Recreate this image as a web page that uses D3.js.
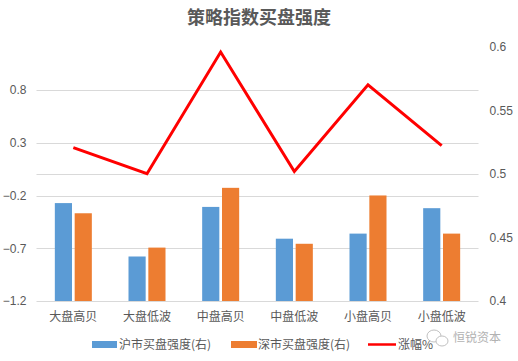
<!DOCTYPE html>
<html><head><meta charset="utf-8">
<script src="https://cdn.jsdelivr.net/npm/d3@7"></script>
<style>body{margin:0;background:#fff;} text{font-family:"Noto Sans CJK SC","Noto Sans",sans-serif;}</style>
</head><body><svg id="c" width="518" height="361"></svg>
<script>
const categories = ["大盘高贝","大盘低波","中盘高贝","中盘低波","小盘高贝","小盘低波"];
const shBuy = [0.477, 0.435, 0.474, 0.449, 0.453, 0.473];
const szBuy = [0.469, 0.442, 0.489, 0.445, 0.483, 0.453];
const gain = [0.253, 0.007, 1.16, 0.028, 0.85, 0.272];
const leftTicks = [-1.2, -0.7, -0.2, 0.3, 0.8];
const rightTicks = [0.4, 0.45, 0.5, 0.55, 0.6];
const seriesNames = ["沪市买盘强度(右)", "深市买盘强度(右)", "涨幅%"];

const svg = d3.select("#c");
const grey = "#595959";
const x0 = 36.5, x1 = 478.5, yBot = 301, yTop = 46.7;
const x = d3.scaleBand().domain(categories).range([x0, x1]);
const yL = d3.scaleLinear().domain([-1.2, 0.8]).range([yBot, 90]);
const yR = d3.scaleLinear().domain([0.4, 0.6]).range([yBot, yTop]);

// gridlines (left axis ticks)
svg.append("g").selectAll("line").data(leftTicks).join("line")
  .attr("x1", x0).attr("x2", x1).attr("y1", d => Math.round(yL(d)) + 0.5).attr("y2", d => Math.round(yL(d)) + 0.5)
  .attr("stroke", "#d9d9d9").attr("stroke-width", 1);
// zero axis line
svg.append("line").attr("x1", x0).attr("x2", x1)
  .attr("y1", Math.round(yL(0)) + 0.5).attr("y2", Math.round(yL(0)) + 0.5)
  .attr("stroke", "#d9d9d9");

// left axis
const axL = svg.append("g").attr("transform", `translate(${x0},0)`)
  .call(d3.axisLeft(yL).tickValues(leftTicks).tickSize(0).tickPadding(10).tickFormat(d3.format(".1f")));
axL.select(".domain").remove();
axL.selectAll("text").attr("fill", grey).style("font-size", "12px").style("font-family", "Liberation Sans, Arial, sans-serif");

// right axis
const axR = svg.append("g").attr("transform", `translate(${x1},0)`)
  .call(d3.axisRight(yR).tickValues(rightTicks).tickSize(0).tickPadding(11).tickFormat(d => String(+d.toFixed(2))));
axR.select(".domain").remove();
axR.selectAll("text").attr("fill", grey).style("font-size", "12px").style("font-family", "Liberation Sans, Arial, sans-serif");

// bars
const inner = d3.scaleBand().domain([0, 1]).range([0, 37]).paddingInner(0.135);
const groupOff = (x.bandwidth() - 37) / 2;
const colors = ["#5b9bd5", "#ed7d31"];
[shBuy, szBuy].forEach((vals, si) => {
  svg.append("g").selectAll("rect").data(vals).join("rect")
    .attr("x", (d, i) => x(categories[i]) + groupOff + inner(si))
    .attr("width", inner.bandwidth())
    .attr("y", d => yR(d)).attr("height", d => yBot - yR(d))
    .attr("fill", colors[si]);
});

// line
const line = d3.line().x((d, i) => x(categories[i]) + x.bandwidth() / 2).y(d => yL(d));
svg.append("path").datum(gain).attr("d", line).attr("fill", "none")
  .attr("stroke", "#ff0000").attr("stroke-width", 3).attr("stroke-linejoin", "miter");

// category labels
svg.append("g").selectAll("text").data(categories).join("text")
  .attr("x", d => x(d) + x.bandwidth() / 2).attr("y", 321)
  .attr("text-anchor", "middle").attr("fill", grey).style("font-size", "12px").text(d => d);

// title
svg.append("text").attr("x", 259).attr("y", 24).attr("text-anchor", "middle")
  .attr("fill", grey).style("font-size", "18px").style("font-weight", "bold").text("策略指数买盘强度");

// legend
const lg = svg.append("g");
lg.append("rect").attr("x", 92).attr("y", 341).attr("width", 25).attr("height", 7).attr("fill", colors[0]);
lg.append("text").attr("x", 119).attr("y", 349).attr("fill", grey).style("font-size", "12px").text(seriesNames[0]);
lg.append("rect").attr("x", 231).attr("y", 341).attr("width", 26).attr("height", 7).attr("fill", colors[1]);
lg.append("text").attr("x", 258).attr("y", 349).attr("fill", grey).style("font-size", "12px").text(seriesNames[1]);
lg.append("line").attr("x1", 368).attr("x2", 396).attr("y1", 344.5).attr("y2", 344.5).attr("stroke", "#ff0000").attr("stroke-width", 2.5);
lg.append("text").attr("x", 398).attr("y", 349).attr("fill", grey).style("font-size", "12px").text(seriesNames[2]);

// watermark
const wm = svg.append("g").attr("opacity", 0.9);
wm.append("ellipse").attr("cx", 434).attr("cy", 336).attr("rx", 7).attr("ry", 6).attr("fill", "#fff").attr("stroke", "#bbb");
wm.append("ellipse").attr("cx", 442).attr("cy", 341).attr("rx", 6).attr("ry", 5).attr("fill", "#fff").attr("stroke", "#bbb");
wm.append("text").attr("x", 453).attr("y", 342).attr("fill", "#aaa").style("font-size", "12px").text("恒锐资本");
</script></body></html>
